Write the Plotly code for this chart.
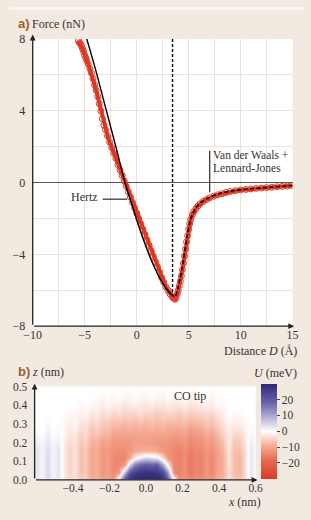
import plotly.graph_objects as go

W, H = 311, 520
def px(x): return x / W
def py(y): return 1 - y / H

SERIF = "Liberation Serif, Times New Roman, serif"
SANS = "Liberation Sans, Arial, sans-serif"
BG = "#f2eae1"
LABEL_C = "#9a6128"
TXT = "#333333"
RED = "#dd2c1a"
NOTICK = "rgba(0,0,0,0)"

# ---------------- Panel a data ----------------
dist = [-5.6, -5.5, -5.4, -5.3, -5.2, -5.1, -5.0, -4.9, -4.8, -4.65, -4.5, -4.35, -4.2, -4.05,
        -3.9, -3.75, -3.6, -3.45, -3.3, -3.15, -3.0, -2.8, -2.6, -2.4, -2.2, -2.0, -1.8, -1.6,
        -1.4, -1.2, -1.0, -0.8, -0.6, -0.4, -0.2, 0.0, 0.2, 0.4, 0.6, 0.8, 1.0, 1.2, 1.4, 1.6,
        1.8, 2.0, 2.2, 2.4, 2.6, 2.8, 3.0, 3.2, 3.4, 3.55, 3.7, 3.8, 3.9, 4.0, 4.1, 4.2, 4.3,
        4.4, 4.5, 4.6, 4.7, 4.8, 4.9, 5.0, 5.1, 5.2, 5.35, 5.5, 5.7, 5.9, 6.1, 6.4, 6.7, 7.0,
        7.4, 7.8, 8.2, 8.6, 9.0, 9.5, 10.0, 10.5, 11.0, 11.5, 12.0, 12.5, 13.0, 13.5, 14.0,
        14.5, 15.0]
force = [7.9, 7.8, 7.75, 7.6, 7.45, 7.3, 7.1, 6.95, 6.8, 6.6, 6.35, 6.1, 5.8, 5.45,
         5.15, 4.8, 4.4, 4.0, 3.55, 3.2, 2.95, 2.6, 2.25, 1.95, 1.65, 1.35, 1.0, 0.7,
         0.4, 0.1, -0.2, -0.5, -0.8, -1.1, -1.4, -1.7, -2.0, -2.3, -2.6, -2.9, -3.2, -3.5, -3.8, -4.1,
         -4.4, -4.7, -5.0, -5.3, -5.55, -5.8, -6.0, -6.2, -6.35, -6.45, -6.5, -6.4, -6.2, -6.0, -5.75, -5.5, -5.2,
         -4.85, -4.5, -4.1, -3.7, -3.3, -2.95, -2.6, -2.3, -2.05, -1.8, -1.62, -1.45, -1.3, -1.18, -1.05, -0.95, -0.85,
         -0.76, -0.68, -0.62, -0.55, -0.49, -0.45, -0.41, -0.38, -0.35, -0.32, -0.3, -0.28, -0.26, -0.23, -0.21,
         -0.19, -0.17]

hertz_d = [-4.9, -4.0, -3.0, -2.0, -1.1, -0.5, 0.6, 1.5, 2.5, 3.2, 3.6]
hertz_f = [8.2, 6.4, 4.2, 2.0, -0.05, -1.15, -3.1, -4.45, -5.6, -6.15, -6.35]

vdw_d = [3.75, 4.0, 4.3, 4.6, 4.9, 5.2, 5.6, 6.0, 7.0, 8.0, 9.0, 10.0, 11.0, 12.0, 13.0, 14.0, 15.0]
vdw_f = [-6.3, -5.8, -5.0, -3.9, -2.8, -2.05, -1.5, -1.2, -0.82, -0.6, -0.47, -0.4, -0.34, -0.29, -0.25, -0.2, -0.16]

contact_d = [3.45, 3.45]
contact_f = [8.0, -6.3]

a_xticks = [-10, -5, 0, 5, 10, 15]
a_xtext = ["−10", "−5", "0", "5", "10", "15"]
a_yticks = [-8, -4, 0, 4, 8]
a_ytext = ["−8", "−4", "0", "4", "8"]

# ---------------- Panel b data ----------------
x_nm = [-0.60, -0.57, -0.54, -0.51, -0.48, -0.45, -0.42, -0.39, -0.36, -0.33, -0.30,
        -0.27, -0.24, -0.21, -0.18, -0.15, -0.12, -0.09, -0.06, -0.03, 0.00,
        0.03, 0.06, 0.09, 0.12, 0.15, 0.18, 0.21, 0.24, 0.27, 0.30,
        0.33, 0.36, 0.39, 0.42, 0.45, 0.48, 0.51, 0.54, 0.57, 0.60]
z_nm = [0.0, 0.04, 0.08, 0.12, 0.16, 0.20, 0.25, 0.30, 0.35, 0.40, 0.45, 0.50]
U = [
    [3, 1, 4, 1, 3, -2, -4, -3, -6, -5, -9, -8, -11, -10, -12, 4, 22, 28, 30, 30, 30, 30, 30, 28, 20, 3, -13, -12, -14, -13, -13, -11, -12, -9, -8, -3, -6, -7, -4, 3, 0],
    [3, 1, 4, 1, 3, -2, -5, -3, -7, -6, -10, -9, -12, -11, -14, -12, 8, 22, 26, 28, 28, 28, 27, 24, 12, -13, -15, -13, -16, -14, -15, -12, -14, -10, -9, -3, -7, -8, -4, 3, 0],
    [3, 1, 4, 1, 3, -2, -5, -3, -7, -6, -10, -9, -12, -11, -14, -14, -12, 5, 14, 18, 20, 18, 20, 10, -2, -14, -15, -13, -16, -14, -15, -12, -14, -10, -9, -3, -7, -8, -4, 3, 0],
    [3, 1, 4, 1, 3, -2, -5, -3, -7, -6, -10, -9, -12, -11, -14, -14, -14, -10, -2, 2, 4, 3, 2, -4, -12, -14, -15, -13, -16, -14, -15, -12, -14, -10, -9, -3, -7, -8, -4, 3, 0],
    [3, 1, 4, 1, 3, -2, -5, -3, -7, -6, -10, -9, -12, -11, -13, -13, -13, -12, -10, -9, -9, -9, -10, -12, -13, -14, -15, -13, -15, -14, -14, -12, -13, -10, -8, -3, -7, -7, -4, 3, 0],
    [2, 1, 3, 1, 2, -2, -4, -3, -6, -5, -9, -8, -11, -10, -12, -12, -12, -12, -11, -11, -11, -11, -12, -12, -12, -13, -13, -12, -14, -13, -13, -11, -12, -9, -7, -2, -6, -6, -3, 2, 0],
    [1, 0, 2, 0, 1, -1, -3, -2, -5, -4, -7, -6, -8, -8, -10, -10, -10, -10, -10, -10, -10, -10, -10, -10, -10, -11, -11, -10, -12, -11, -11, -9, -10, -7, -5, -2, -4, -4, -2, 1, 0],
    [0, 0, 1, 0, 0, -1, -2, -1, -3, -3, -5, -4, -6, -6, -7, -7, -8, -7, -8, -7, -8, -7, -8, -7, -8, -8, -8, -7, -9, -8, -8, -6, -7, -5, -3, -1, -2, -2, -1, 0, 0],
    [0, 0, 0, 0, 0, 0, -1, -1, -2, -1, -3, -2, -4, -3, -5, -4, -5, -5, -5, -4, -5, -5, -6, -5, -5, -5, -6, -5, -6, -5, -5, -4, -5, -3, -2, 0, -1, -1, 0, 0, 0],
    [0, 0, 0, 0, 0, 0, 0, 0, -1, 0, -1, -1, -2, -1, -2, -2, -3, -2, -2, -2, -3, -2, -3, -3, -2, -3, -3, -2, -3, -3, -2, -2, -2, -1, -1, 0, 0, 0, 0, 0, 0],
    [0, 0, 0, 0, 0, 0, 0, 0, 0, 0, 0, 0, -1, 0, -1, 0, -1, -1, 0, -1, -1, 0, -1, -1, 0, -1, -1, 0, -1, -1, 0, 0, -1, 0, 0, 0, 0, 0, 0, 0, 0],
    [0] * 41,
]
b_xticks = [-0.4, -0.2, 0.0, 0.2, 0.4, 0.6]
b_xtext = ["−0.4", "−0.2", "0.0", "0.2", "0.4", "0.6"]
b_yticks = [0.0, 0.1, 0.2, 0.3, 0.4, 0.5]
b_ytext = ["0.0", "0.1", "0.2", "0.3", "0.4", "0.5"]
cb_ticks = [-20, -10, 0, 10, 20]
cb_text = ["−20", "−10", "0", "10", "20"]

colorscale = [[0.0, "#d93a25"], [0.2, "#e96a50"], [0.35, "#f5ad97"], [0.5, "#ffffff"],
              [0.65, "#b4afd6"], [0.8, "#6c64aa"], [1.0, "#2e2877"]]

fig = go.Figure()

# measured data
fig.add_trace(go.Scatter(x=dist, y=force, mode="lines+markers",
                         line=dict(color=RED, width=4),
                         marker=dict(symbol="circle-open", size=6, color=RED, line=dict(width=1)),
                         xaxis="x", yaxis="y", showlegend=False, opacity=0.95))
fig.add_trace(go.Scatter(x=hertz_d, y=hertz_f, mode="lines", line=dict(color="black", width=1.4, shape="spline"),
                         xaxis="x", yaxis="y", showlegend=False))
fig.add_trace(go.Scatter(x=vdw_d, y=vdw_f, mode="lines", line=dict(color="black", width=1.5, dash="4px,2.5px", shape="spline"),
                         xaxis="x", yaxis="y", showlegend=False))
fig.add_trace(go.Scatter(x=contact_d, y=contact_f, mode="lines", line=dict(color="black", width=1.4, dash="3px,2px"),
                         xaxis="x", yaxis="y", showlegend=False))

fig.add_trace(go.Heatmap(x=x_nm, y=z_nm, z=U, zmin=-30, zmax=30, zsmooth="best",
                         colorscale=colorscale, xaxis="x2", yaxis="y2",
                         colorbar=dict(x=px(266), xanchor="left", xpad=0, ypad=0,
                                       y=py(436), yanchor="middle", len=98 / H, lenmode="fraction",
                                       thickness=16, thicknessmode="pixels", outlinewidth=0,
                                       tickvals=cb_ticks, ticktext=cb_text, ticks="outside", ticklen=3,
                                       tickcolor="#444", tickfont=dict(family=SERIF, size=11.5, color=TXT))))

grid_a = "#ebe3da"
fig.update_layout(
    width=W, height=H, margin=dict(l=0, r=0, t=0, b=0),
    paper_bgcolor=BG, plot_bgcolor="white", showlegend=False,
    xaxis=dict(domain=[px(25), px(299)], range=[-10, 15], anchor="y",
               tickvals=a_xticks, ticktext=a_xtext, ticks="",
               showgrid=True, gridcolor=grid_a, gridwidth=1,
               minor=dict(tickvals=[-7.5, -2.5, 2.5, 7.5, 12.5], showgrid=True, gridcolor=grid_a, gridwidth=1, ticks=""),
               zeroline=False, showline=False, tickfont=dict(family=SERIF, size=12, color=TXT)),
    yaxis=dict(domain=[1 - 328 / H, 1 - 33 / H], range=[-8, 8], anchor="x",
               tickvals=a_yticks, ticktext=a_ytext, ticks="outside", ticklen=4, tickcolor=NOTICK,
               showgrid=True, gridcolor=grid_a, gridwidth=1,
               minor=dict(tickvals=[-6, -2, 2, 6], showgrid=True, gridcolor=grid_a, gridwidth=1, ticks=""),
               zeroline=True, zerolinecolor="#555555", zerolinewidth=1.3, showline=False,
               tickfont=dict(family=SERIF, size=12, color=TXT)),
    xaxis2=dict(domain=[px(27), px(260)], range=[-0.61, 0.6], anchor="y2",
                tickvals=b_xticks, ticktext=b_xtext, ticks="",
                showgrid=True, gridcolor="rgba(210,205,200,0.45)", gridwidth=1, layer="above traces",
                zeroline=False, showline=False, tickfont=dict(family=SERIF, size=11.5, color=TXT)),
    yaxis2=dict(domain=[1 - 486 / H, 1 - 390 / H], range=[0, 0.5], anchor="x2",
                tickvals=b_yticks, ticktext=b_ytext, ticks="outside", ticklen=4, tickcolor=NOTICK,
                showgrid=True, gridcolor="rgba(210,205,200,0.45)", gridwidth=1, layer="above traces",
                zeroline=False, showline=False, tickfont=dict(family=SERIF, size=11.5, color=TXT)),
)

shapes = [
    dict(type="rect", xref="paper", yref="paper", x0=0, x1=1, y0=py(3), y1=1,
         fillcolor="#f8f4ef", line=dict(width=0), layer="below"),
    # Hertz leader
    dict(type="line", xref="x", yref="y", x0=-3.28, x1=-0.91, y0=-0.92, y1=-0.92,
         line=dict(color="black", width=1)),
    # VdW leader
    dict(type="line", xref="x", yref="y", x0=7.03, x1=7.03, y0=1.78, y1=-0.54,
         line=dict(color="black", width=1)),
]
fig.update_layout(shapes=shapes)

def txt(text, x, y, xanchor="left", size=12, family=SERIF, color=TXT, yanchor="middle"):
    return dict(text=text, x=px(x), y=py(y), xref="paper", yref="paper", showarrow=False,
                xanchor=xanchor, yanchor=yanchor, font=dict(family=family, size=size, color=color))

def arrow(x, y, ax, ay, xr, yr):
    return dict(text="", x=x, y=y, ax=ax, ay=ay, xref=xr, yref=yr, axref=xr, ayref=yr,
                showarrow=True, arrowhead=2, arrowsize=0.9, arrowwidth=1.3, arrowcolor="#222", standoff=0)

annotations = [
    txt("<b>a)</b>", 7, 17, size=13, family=SANS, color=LABEL_C),
    txt("Force (nN)", 22, 17),
    txt("Distance <i>D</i> (Å)", 306, 354, xanchor="right"),
    txt("Hertz", 96, 195, xanchor="right"),
    txt("Van der Waals +", 213, 152, size=11.5),
    txt("Lennard-Jones", 213, 165, size=11.5),
    txt("<b>b)</b>", 7, 375, size=13, family=SANS, color=LABEL_C),
    txt("<i>z</i> (nm)", 22, 375),
    txt("<i>U</i> (meV)", 306, 376, xanchor="right"),
    txt("CO tip", 191, 400, xanchor="center"),
    txt("<i>x</i> (nm)", 268, 509, xanchor="right"),
    arrow(-10, 8.25, -10, -8, "x", "y"),
    arrow(15.15, -8, -10, -8, "x", "y"),
    arrow(-0.61, 0.515, -0.61, 0, "x2", "y2"),
    arrow(0.61, 0, -0.61, 0, "x2", "y2"),
]
fig.update_layout(annotations=annotations)

fig.write_html("out.html")
